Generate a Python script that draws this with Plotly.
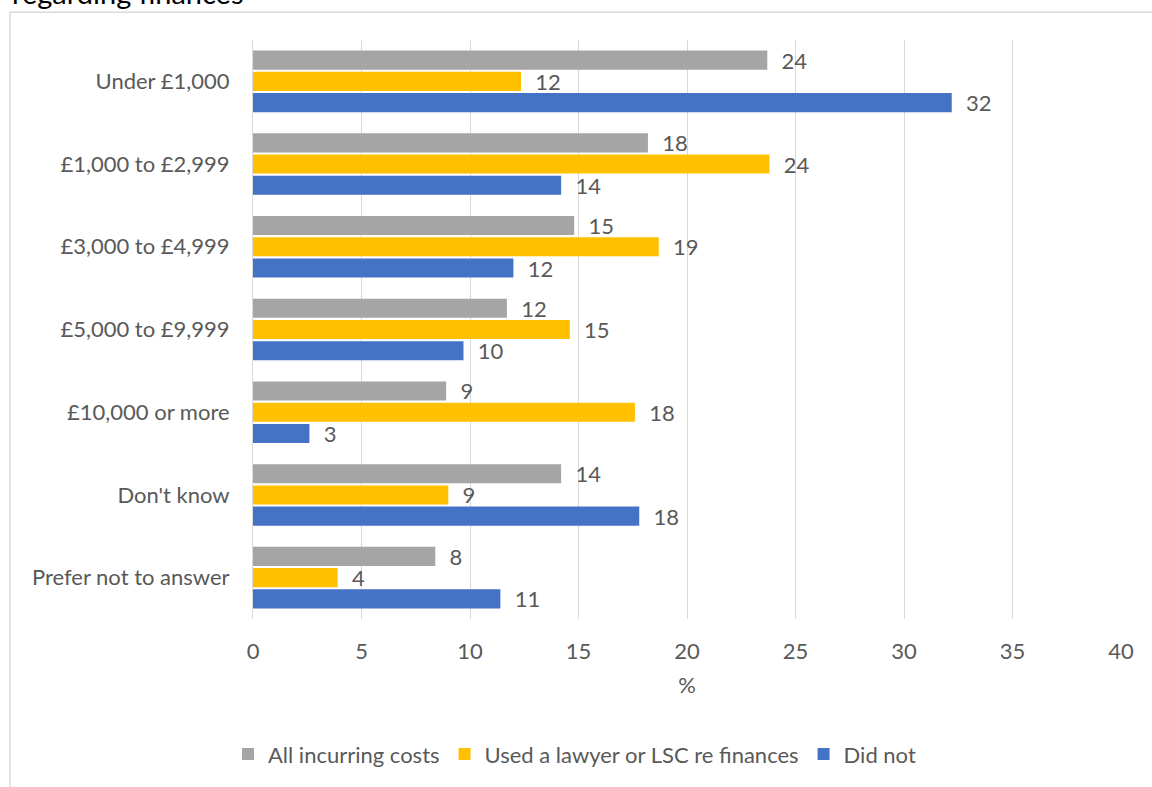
import plotly.graph_objects as go

categories = ["Under £1,000", "£1,000 to £2,999", "£3,000 to £4,999", "£5,000 to £9,999",
              "£10,000 or more", "Don't know", "Prefer not to answer"]
all_costs = [23.7, 18.2, 14.8, 11.7, 8.9, 14.2, 8.4]
used_lawyer = [12.35, 23.8, 18.7, 14.6, 17.6, 9.0, 3.9]
did_not = [32.2, 14.2, 12.0, 9.7, 2.6, 17.8, 11.4]
series_names = ["All incurring costs", "Used a lawyer or LSC re finances", "Did not"]
colors = ["#A5A5A5", "#FFC000", "#4472C4"]
x_ticks = [0, 5, 10, 15, 20, 25, 30, 35, 40]

FONT = "Lato"
TXT = "#595959"
FS = 22

fig = go.Figure()
for name, vals, col in zip(series_names, [all_costs, used_lawyer, did_not], colors):
    fig.add_trace(go.Bar(
        y=categories, x=vals, name=name, orientation="h",
        marker=dict(color=col, line=dict(width=0)),
        texttemplate="\u00a0\u00a0%{x:.0f}", textposition="outside",
        textfont=dict(family=FONT, size=FS, color=TXT),
        constraintext="none", cliponaxis=False,
    ))

W, H = 1152, 787
L, R, T, B = 253, 31, 40, 165
pw, ph = W - L - R, H - T - B

def px2x(px):
    return (px - L) / pw

def py2y(py):
    return (H - B - py) / ph

fig.update_layout(
    width=W, height=H,
    margin=dict(l=L, r=R, t=T, b=B),
    paper_bgcolor="white", plot_bgcolor="white",
    barmode="group", bargap=0.23, bargroupgap=0.1,
    font=dict(family=FONT, size=FS, color=TXT),
    xaxis=dict(range=[0, 40], tickvals=x_ticks, showgrid=True, gridcolor="#D9D9D9",
               gridwidth=1, zeroline=False, showline=False,
               ticklabelstandoff=17, tickfont=dict(size=FS, color=TXT),
               title=dict(text="%", font=dict(size=FS, color=TXT), standoff=14)),
    yaxis=dict(autorange="reversed", showline=True, linecolor="#D9D9D9", linewidth=1,
               showgrid=False, ticklabelstandoff=18, tickfont=dict(size=FS, color=TXT)),
    legend=dict(orientation="h", x=px2x(228), xanchor="left", y=py2y(758), yanchor="middle",
                font=dict(size=FS, color=TXT), traceorder="normal", itemwidth=30,
                bgcolor="rgba(0,0,0,0)"),
    showlegend=True,
)

fig.add_shape(type="rect", xref="paper", yref="paper",
              x0=px2x(10), x1=px2x(1200), y0=py2y(830), y1=py2y(12),
              line=dict(color="#D9D9D9", width=1.5), fillcolor="rgba(0,0,0,0)", layer="below")

fig.add_annotation(text="regarding finances", xref="paper", yref="paper",
                   x=px2x(10), y=py2y(12), xanchor="left", yanchor="bottom",
                   showarrow=False, font=dict(family=FONT, size=29, color="#000000"))

fig.write_html("out.html")
